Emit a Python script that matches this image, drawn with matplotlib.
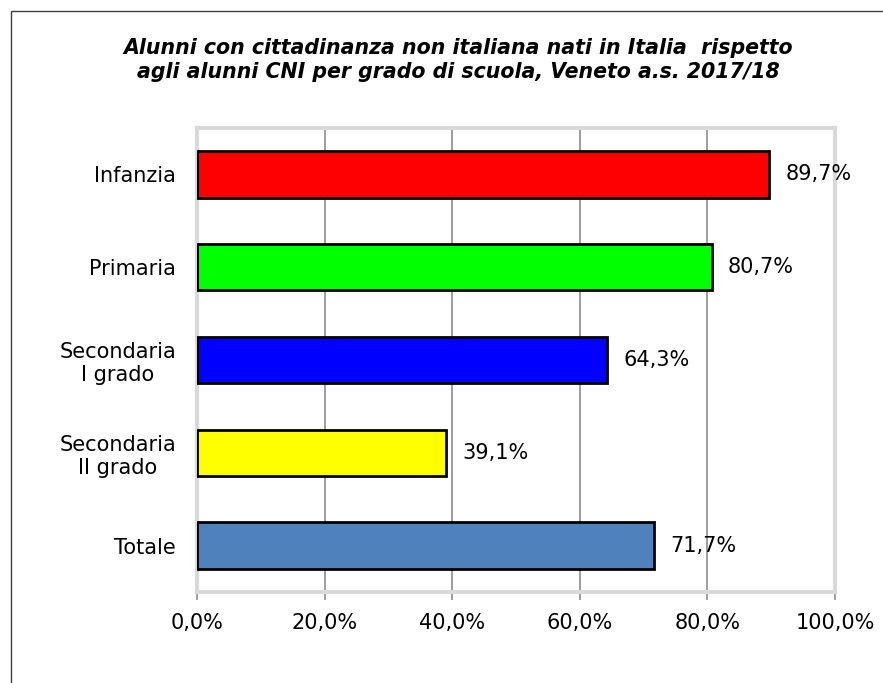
import matplotlib.pyplot as plt
from matplotlib.patches import Rectangle

categories = ['Infanzia', 'Primaria', 'Secondaria\nI grado', 'Secondaria\nII grado', 'Totale']
values = [89.7, 80.7, 64.3, 39.1, 71.7]
bar_colors = ['#FF0000', '#00FF00', '#0000FF', '#FFFF00', '#4F81BD']
x_ticks = [0, 20, 40, 60, 80, 100]
x_labels = ['0,0%', '20,0%', '40,0%', '60,0%', '80,0%', '100,0%']
title = ('Alunni con cittadinanza non italiana nati in Italia  rispetto\n'
         'agli alunni CNI per grado di scuola, Veneto a.s. 2017/18')

fig = plt.figure(figsize=(8.83, 6.83), dpi=100)
fig.patches.append(Rectangle((11 / 883, -0.05), 1.2, 1 - 11 / 683 + 0.05,
                             transform=fig.transFigure, fill=False,
                             edgecolor='#404040', lw=1.0))

ax = fig.add_axes([197 / 883, 1 - 592 / 683, 638 / 883, 464 / 683])
ypos = list(range(len(categories)))
ax.barh(ypos, values, height=0.5, color=bar_colors, edgecolor='black',
        linewidth=2, zorder=3)
for y, v in zip(ypos, values):
    ax.text(v + 2.5, y, f'{v:.1f}%'.replace('.', ','), va='center', ha='left',
            fontsize=15, zorder=4)

ax.set_xlim(0, 100)
ax.set_ylim(len(categories) - 0.5, -0.5)
ax.set_xticks(x_ticks)
ax.set_xticklabels(x_labels, fontsize=15)
ax.set_yticks(ypos)
ax.set_yticklabels(categories, fontsize=15)
for lab in ax.get_yticklabels():
    lab.set_multialignment('center')
ax.tick_params(axis='y', length=0, pad=15)
ax.tick_params(axis='x', length=6, width=1.2, color='#8c8c8c', pad=9)
ax.grid(axis='x', color='#8c8c8c', lw=1.2, zorder=1)
ax.set_axisbelow(True)
for s in ax.spines.values():
    s.set_color('#d9d9d9')
    s.set_linewidth(3)
ax.axvline(0, color='#8c8c8c', lw=1.2, zorder=2)
ax.axhline(len(categories) - 0.5, color='#a6a6a6', lw=1.2, zorder=2)

fig.text(458 / 883, 1 - 60 / 683, title, ha='center', va='center',
         fontsize=14.8, fontweight='bold', fontstyle='italic', linespacing=1.3)

fig.savefig('out.png', dpi=100)
